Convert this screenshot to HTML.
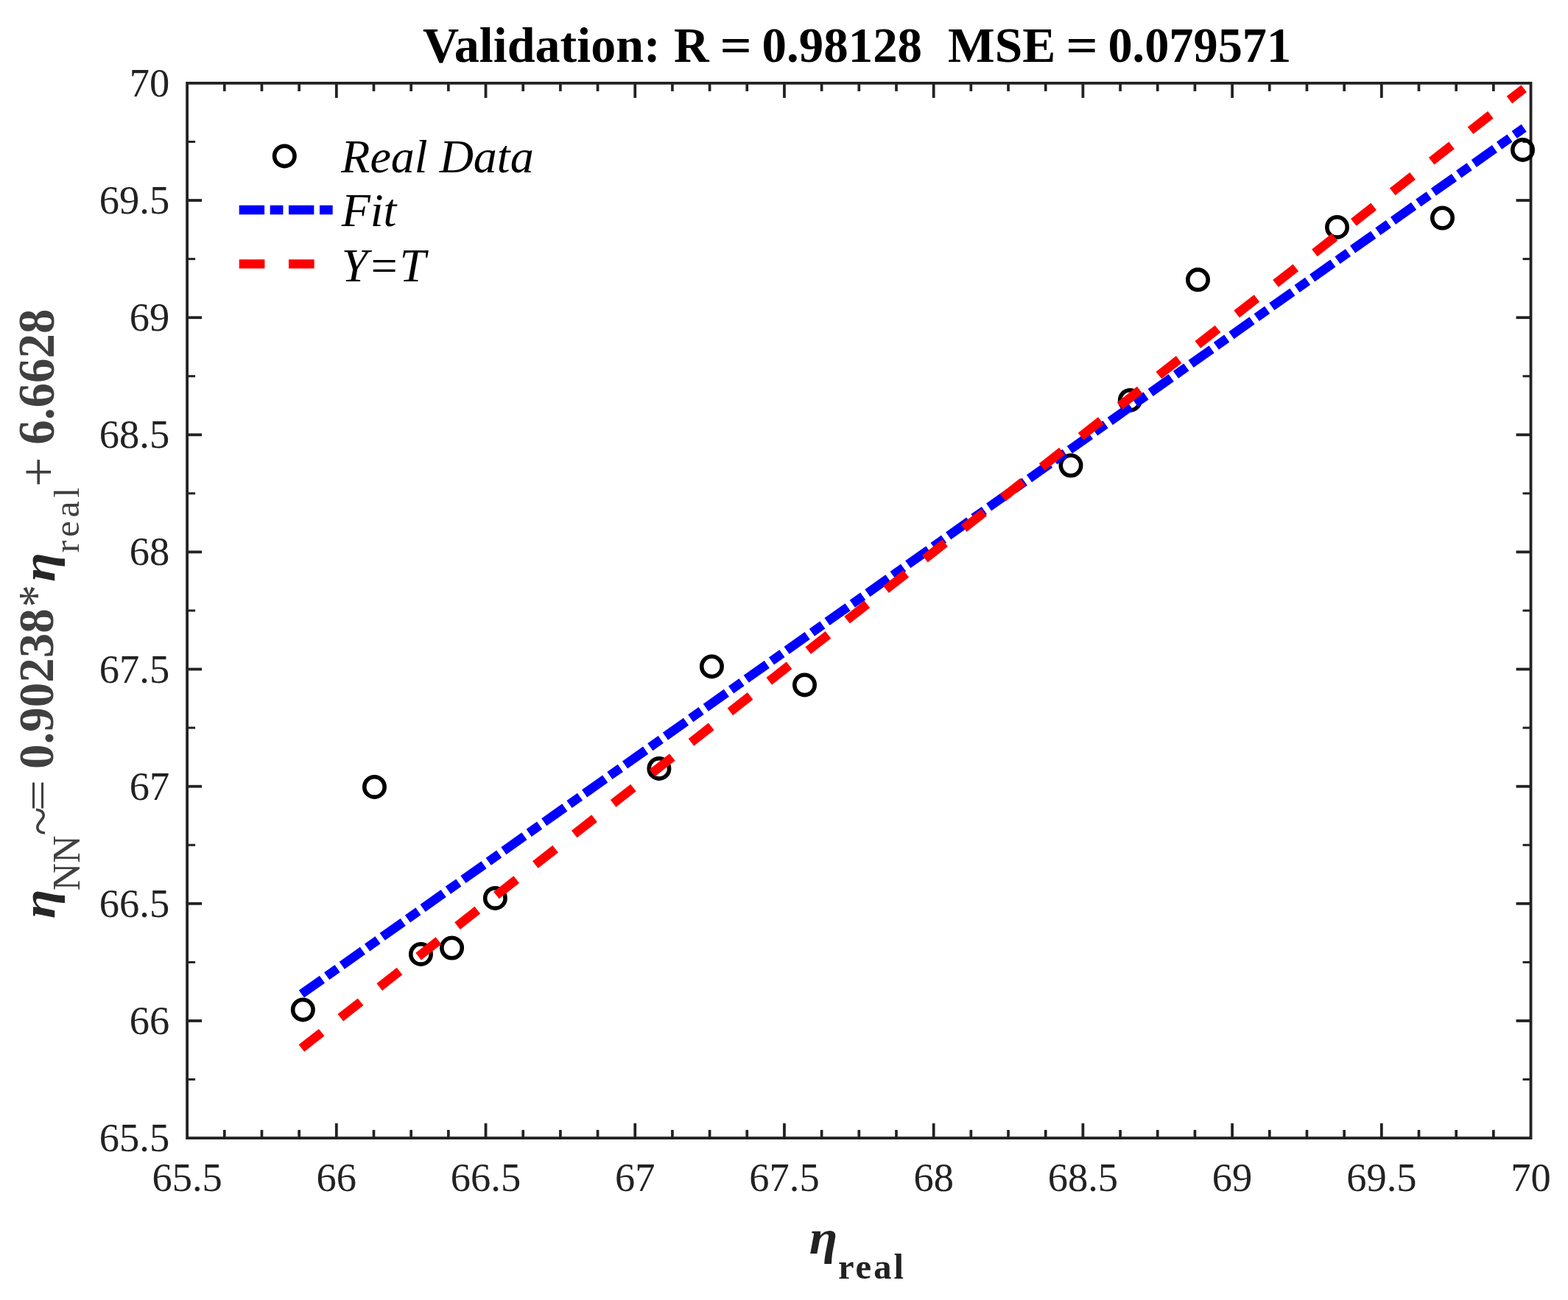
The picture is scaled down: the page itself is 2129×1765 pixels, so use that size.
<!DOCTYPE html>
<html><head><meta charset="utf-8"><title>Validation plot</title>
<style>
html,body{margin:0;padding:0;background:#fff;overflow:hidden;}
svg{display:block;}
text{font-family:"Liberation Serif","Times New Roman",serif;}
</style></head>
<body>
<svg width="2129" height="1765" viewBox="0 0 2129 1765">
<rect x="0" y="0" width="2129" height="1765" fill="#ffffff"/>
<rect x="254.10" y="112.90" width="1824.44" height="1432.20" fill="none" stroke="#222222" stroke-width="3.8"/>
<g stroke="#222222"><line x1="304.78" y1="1545.10" x2="304.78" y2="1534.10" stroke-width="3.7"/><line x1="304.78" y1="112.90" x2="304.78" y2="123.90" stroke-width="3.7"/><line x1="355.46" y1="1545.10" x2="355.46" y2="1534.10" stroke-width="3.7"/><line x1="355.46" y1="112.90" x2="355.46" y2="123.90" stroke-width="3.7"/><line x1="406.14" y1="1545.10" x2="406.14" y2="1534.10" stroke-width="3.7"/><line x1="406.14" y1="112.90" x2="406.14" y2="123.90" stroke-width="3.7"/><line x1="456.82" y1="1545.10" x2="456.82" y2="1525.10" stroke-width="3.8"/><line x1="456.82" y1="112.90" x2="456.82" y2="132.90" stroke-width="3.8"/><line x1="507.49" y1="1545.10" x2="507.49" y2="1534.10" stroke-width="3.7"/><line x1="507.49" y1="112.90" x2="507.49" y2="123.90" stroke-width="3.7"/><line x1="558.17" y1="1545.10" x2="558.17" y2="1534.10" stroke-width="3.7"/><line x1="558.17" y1="112.90" x2="558.17" y2="123.90" stroke-width="3.7"/><line x1="608.85" y1="1545.10" x2="608.85" y2="1534.10" stroke-width="3.7"/><line x1="608.85" y1="112.90" x2="608.85" y2="123.90" stroke-width="3.7"/><line x1="659.53" y1="1545.10" x2="659.53" y2="1525.10" stroke-width="3.8"/><line x1="659.53" y1="112.90" x2="659.53" y2="132.90" stroke-width="3.8"/><line x1="710.21" y1="1545.10" x2="710.21" y2="1534.10" stroke-width="3.7"/><line x1="710.21" y1="112.90" x2="710.21" y2="123.90" stroke-width="3.7"/><line x1="760.89" y1="1545.10" x2="760.89" y2="1534.10" stroke-width="3.7"/><line x1="760.89" y1="112.90" x2="760.89" y2="123.90" stroke-width="3.7"/><line x1="811.57" y1="1545.10" x2="811.57" y2="1534.10" stroke-width="3.7"/><line x1="811.57" y1="112.90" x2="811.57" y2="123.90" stroke-width="3.7"/><line x1="862.25" y1="1545.10" x2="862.25" y2="1525.10" stroke-width="3.8"/><line x1="862.25" y1="112.90" x2="862.25" y2="132.90" stroke-width="3.8"/><line x1="912.93" y1="1545.10" x2="912.93" y2="1534.10" stroke-width="3.7"/><line x1="912.93" y1="112.90" x2="912.93" y2="123.90" stroke-width="3.7"/><line x1="963.60" y1="1545.10" x2="963.60" y2="1534.10" stroke-width="3.7"/><line x1="963.60" y1="112.90" x2="963.60" y2="123.90" stroke-width="3.7"/><line x1="1014.28" y1="1545.10" x2="1014.28" y2="1534.10" stroke-width="3.7"/><line x1="1014.28" y1="112.90" x2="1014.28" y2="123.90" stroke-width="3.7"/><line x1="1064.96" y1="1545.10" x2="1064.96" y2="1525.10" stroke-width="3.8"/><line x1="1064.96" y1="112.90" x2="1064.96" y2="132.90" stroke-width="3.8"/><line x1="1115.64" y1="1545.10" x2="1115.64" y2="1534.10" stroke-width="3.7"/><line x1="1115.64" y1="112.90" x2="1115.64" y2="123.90" stroke-width="3.7"/><line x1="1166.32" y1="1545.10" x2="1166.32" y2="1534.10" stroke-width="3.7"/><line x1="1166.32" y1="112.90" x2="1166.32" y2="123.90" stroke-width="3.7"/><line x1="1217.00" y1="1545.10" x2="1217.00" y2="1534.10" stroke-width="3.7"/><line x1="1217.00" y1="112.90" x2="1217.00" y2="123.90" stroke-width="3.7"/><line x1="1267.68" y1="1545.10" x2="1267.68" y2="1525.10" stroke-width="3.8"/><line x1="1267.68" y1="112.90" x2="1267.68" y2="132.90" stroke-width="3.8"/><line x1="1318.36" y1="1545.10" x2="1318.36" y2="1534.10" stroke-width="3.7"/><line x1="1318.36" y1="112.90" x2="1318.36" y2="123.90" stroke-width="3.7"/><line x1="1369.04" y1="1545.10" x2="1369.04" y2="1534.10" stroke-width="3.7"/><line x1="1369.04" y1="112.90" x2="1369.04" y2="123.90" stroke-width="3.7"/><line x1="1419.71" y1="1545.10" x2="1419.71" y2="1534.10" stroke-width="3.7"/><line x1="1419.71" y1="112.90" x2="1419.71" y2="123.90" stroke-width="3.7"/><line x1="1470.39" y1="1545.10" x2="1470.39" y2="1525.10" stroke-width="3.8"/><line x1="1470.39" y1="112.90" x2="1470.39" y2="132.90" stroke-width="3.8"/><line x1="1521.07" y1="1545.10" x2="1521.07" y2="1534.10" stroke-width="3.7"/><line x1="1521.07" y1="112.90" x2="1521.07" y2="123.90" stroke-width="3.7"/><line x1="1571.75" y1="1545.10" x2="1571.75" y2="1534.10" stroke-width="3.7"/><line x1="1571.75" y1="112.90" x2="1571.75" y2="123.90" stroke-width="3.7"/><line x1="1622.43" y1="1545.10" x2="1622.43" y2="1534.10" stroke-width="3.7"/><line x1="1622.43" y1="112.90" x2="1622.43" y2="123.90" stroke-width="3.7"/><line x1="1673.11" y1="1545.10" x2="1673.11" y2="1525.10" stroke-width="3.8"/><line x1="1673.11" y1="112.90" x2="1673.11" y2="132.90" stroke-width="3.8"/><line x1="1723.79" y1="1545.10" x2="1723.79" y2="1534.10" stroke-width="3.7"/><line x1="1723.79" y1="112.90" x2="1723.79" y2="123.90" stroke-width="3.7"/><line x1="1774.47" y1="1545.10" x2="1774.47" y2="1534.10" stroke-width="3.7"/><line x1="1774.47" y1="112.90" x2="1774.47" y2="123.90" stroke-width="3.7"/><line x1="1825.15" y1="1545.10" x2="1825.15" y2="1534.10" stroke-width="3.7"/><line x1="1825.15" y1="112.90" x2="1825.15" y2="123.90" stroke-width="3.7"/><line x1="1875.82" y1="1545.10" x2="1875.82" y2="1525.10" stroke-width="3.8"/><line x1="1875.82" y1="112.90" x2="1875.82" y2="132.90" stroke-width="3.8"/><line x1="1926.50" y1="1545.10" x2="1926.50" y2="1534.10" stroke-width="3.7"/><line x1="1926.50" y1="112.90" x2="1926.50" y2="123.90" stroke-width="3.7"/><line x1="1977.18" y1="1545.10" x2="1977.18" y2="1534.10" stroke-width="3.7"/><line x1="1977.18" y1="112.90" x2="1977.18" y2="123.90" stroke-width="3.7"/><line x1="2027.86" y1="1545.10" x2="2027.86" y2="1534.10" stroke-width="3.7"/><line x1="2027.86" y1="112.90" x2="2027.86" y2="123.90" stroke-width="3.7"/><line x1="254.10" y1="1465.53" x2="265.10" y2="1465.53" stroke-width="3.0"/><line x1="2078.54" y1="1465.53" x2="2067.54" y2="1465.53" stroke-width="3.0"/><line x1="254.10" y1="1385.97" x2="274.10" y2="1385.97" stroke-width="3.8"/><line x1="2078.54" y1="1385.97" x2="2058.54" y2="1385.97" stroke-width="3.8"/><line x1="254.10" y1="1306.40" x2="265.10" y2="1306.40" stroke-width="3.0"/><line x1="2078.54" y1="1306.40" x2="2067.54" y2="1306.40" stroke-width="3.0"/><line x1="254.10" y1="1226.83" x2="274.10" y2="1226.83" stroke-width="3.8"/><line x1="2078.54" y1="1226.83" x2="2058.54" y2="1226.83" stroke-width="3.8"/><line x1="254.10" y1="1147.27" x2="265.10" y2="1147.27" stroke-width="3.0"/><line x1="2078.54" y1="1147.27" x2="2067.54" y2="1147.27" stroke-width="3.0"/><line x1="254.10" y1="1067.70" x2="274.10" y2="1067.70" stroke-width="3.8"/><line x1="2078.54" y1="1067.70" x2="2058.54" y2="1067.70" stroke-width="3.8"/><line x1="254.10" y1="988.13" x2="265.10" y2="988.13" stroke-width="3.0"/><line x1="2078.54" y1="988.13" x2="2067.54" y2="988.13" stroke-width="3.0"/><line x1="254.10" y1="908.57" x2="274.10" y2="908.57" stroke-width="3.8"/><line x1="2078.54" y1="908.57" x2="2058.54" y2="908.57" stroke-width="3.8"/><line x1="254.10" y1="829.00" x2="265.10" y2="829.00" stroke-width="3.0"/><line x1="2078.54" y1="829.00" x2="2067.54" y2="829.00" stroke-width="3.0"/><line x1="254.10" y1="749.43" x2="274.10" y2="749.43" stroke-width="3.8"/><line x1="2078.54" y1="749.43" x2="2058.54" y2="749.43" stroke-width="3.8"/><line x1="254.10" y1="669.87" x2="265.10" y2="669.87" stroke-width="3.0"/><line x1="2078.54" y1="669.87" x2="2067.54" y2="669.87" stroke-width="3.0"/><line x1="254.10" y1="590.30" x2="274.10" y2="590.30" stroke-width="3.8"/><line x1="2078.54" y1="590.30" x2="2058.54" y2="590.30" stroke-width="3.8"/><line x1="254.10" y1="510.73" x2="265.10" y2="510.73" stroke-width="3.0"/><line x1="2078.54" y1="510.73" x2="2067.54" y2="510.73" stroke-width="3.0"/><line x1="254.10" y1="431.17" x2="274.10" y2="431.17" stroke-width="3.8"/><line x1="2078.54" y1="431.17" x2="2058.54" y2="431.17" stroke-width="3.8"/><line x1="254.10" y1="351.60" x2="265.10" y2="351.60" stroke-width="3.0"/><line x1="2078.54" y1="351.60" x2="2067.54" y2="351.60" stroke-width="3.0"/><line x1="254.10" y1="272.03" x2="274.10" y2="272.03" stroke-width="3.8"/><line x1="2078.54" y1="272.03" x2="2058.54" y2="272.03" stroke-width="3.8"/><line x1="254.10" y1="192.47" x2="265.10" y2="192.47" stroke-width="3.0"/><line x1="2078.54" y1="192.47" x2="2067.54" y2="192.47" stroke-width="3.0"/></g>
<g fill="none" stroke="#000" stroke-width="5.6"><circle cx="411.35" cy="1370.9" r="13.7"/><circle cx="508.45" cy="1068.45" r="13.7"/><circle cx="571.45" cy="1295.45" r="13.7"/><circle cx="613.55" cy="1287.0" r="13.7"/><circle cx="672.35" cy="1219.45" r="13.7"/><circle cx="894.9" cy="1043.4" r="13.7"/><circle cx="966.45" cy="904.9" r="13.7"/><circle cx="1092.5" cy="929.9" r="13.7"/><circle cx="1454.0" cy="632.0" r="13.7"/><circle cx="1534.3" cy="543.4" r="13.7"/><circle cx="1626.5" cy="379.85" r="13.7"/><circle cx="1815.5" cy="308.45" r="13.7"/><circle cx="1958.5" cy="296.0" r="13.7"/><circle cx="2067.5" cy="203.4" r="13.7"/></g>
<line x1="409.40" y1="1349.57" x2="2069.20" y2="173.81" stroke="#0000ff" stroke-width="12.3" stroke-dasharray="34.4 7.6 17.7 7.57"/>
<line x1="409.40" y1="1423.19" x2="2069.20" y2="120.23" stroke="#ff0000" stroke-width="12.3" stroke-dasharray="34.7 32.56"/>
<g fill="#222222" font-size="54.5"><text x="254.10" y="1617.1" text-anchor="middle">65.5</text><text x="230.2" y="1563.10" text-anchor="end">65.5</text><text x="456.82" y="1617.1" text-anchor="middle">66</text><text x="230.2" y="1403.97" text-anchor="end">66</text><text x="659.53" y="1617.1" text-anchor="middle">66.5</text><text x="230.2" y="1244.83" text-anchor="end">66.5</text><text x="862.25" y="1617.1" text-anchor="middle">67</text><text x="230.2" y="1085.70" text-anchor="end">67</text><text x="1064.96" y="1617.1" text-anchor="middle">67.5</text><text x="230.2" y="926.57" text-anchor="end">67.5</text><text x="1267.68" y="1617.1" text-anchor="middle">68</text><text x="230.2" y="767.43" text-anchor="end">68</text><text x="1470.39" y="1617.1" text-anchor="middle">68.5</text><text x="230.2" y="608.30" text-anchor="end">68.5</text><text x="1673.11" y="1617.1" text-anchor="middle">69</text><text x="230.2" y="449.17" text-anchor="end">69</text><text x="1875.82" y="1617.1" text-anchor="middle">69.5</text><text x="230.2" y="290.03" text-anchor="end">69.5</text><text x="2078.54" y="1617.1" text-anchor="middle">70</text><text x="230.2" y="130.90" text-anchor="end">70</text></g>
<circle cx="386.3" cy="211.9" r="13.7" fill="none" stroke="#000" stroke-width="5.6"/>
<line x1="324.7" y1="285" x2="451.9" y2="285" stroke="#0000ff" stroke-width="12.3" stroke-dasharray="34.4 7.6 17.7 7.57"/>
<line x1="324.7" y1="358.4" x2="451.9" y2="358.4" stroke="#ff0000" stroke-width="12.3" stroke-dasharray="34.7 32.56"/>
<text transform="translate(573.90,83.90) scale(1.0102,1.0000)" font-size="67.4" font-weight="bold" fill="#000" xml:space="preserve">Validation:</text>
<text transform="translate(915.00,83.90) scale(0.9796,1.0000)" font-size="67.4" font-weight="bold" fill="#000" xml:space="preserve">R</text>
<text transform="translate(977.55,83.90) scale(1.1281,1.0000)" font-size="67.4" font-weight="bold" fill="#000" xml:space="preserve">=</text>
<text transform="translate(1034.50,83.90) scale(0.9935,1.0000)" font-size="67.4" font-weight="bold" fill="#000" xml:space="preserve">0.98128</text>
<text transform="translate(1287.00,83.90) scale(1.0014,1.0000)" font-size="67.4" font-weight="bold" fill="#000" xml:space="preserve">MSE</text>
<text transform="translate(1447.15,83.90) scale(1.1344,1.0000)" font-size="67.4" font-weight="bold" fill="#000" xml:space="preserve">=</text>
<text transform="translate(1504.45,83.90) scale(0.9842,1.0000)" font-size="67.4" font-weight="bold" fill="#000" xml:space="preserve">0.079571</text>
<text transform="translate(463.35,234.40) scale(1.0000,1.0000)" font-size="64" font-style="italic" fill="#000" xml:space="preserve">Real Data</text>
<text transform="translate(463.70,307.30) scale(1.0000,1.0000)" font-size="64" font-style="italic" fill="#000" xml:space="preserve">Fit</text>
<text transform="translate(463.80,381.65) scale(1.0000,1.0000)" font-size="64" font-style="italic" fill="#000" xml:space="preserve">Y=T</text>
<text transform="translate(1098.80,1702.00) scale(1.0353,0.9574)" font-size="68" font-weight="bold" font-style="italic" fill="#222222" xml:space="preserve">η</text>
<text transform="translate(1137.90,1735.80) scale(0.9932,0.9941)" font-size="49" font-weight="bold" letter-spacing="3" fill="#222222" xml:space="preserve">real</text>
<text transform="translate(73.80,1247.30) rotate(-90) scale(1.0727,0.9277)" font-size="68" font-weight="bold" font-style="italic" fill="#262626" xml:space="preserve">η</text>
<text transform="translate(107.65,1209.25) rotate(-90) scale(1.0097,1.0333)" font-size="51.5" fill="#404040" xml:space="preserve">NN</text>
<text transform="translate(78.95,1134.70) rotate(-90) scale(1.0114,1.0000)" font-size="72" fill="#404040" xml:space="preserve">~</text>
<text transform="translate(72.10,1101.30) rotate(-90) scale(1.0412,0.8444)" font-size="72" fill="#404040" xml:space="preserve">=</text>
<text transform="translate(72.35,1044.00) rotate(-90) scale(1.0000,1.0196)" font-size="67" font-weight="bold" fill="#404040" xml:space="preserve">0.90238</text>
<text transform="translate(70.90,824.35) rotate(-90) scale(1.0042,1.1364)" font-size="60" fill="#404040" xml:space="preserve">*</text>
<text transform="translate(74.10,790.00) rotate(-90) scale(1.0727,0.9362)" font-size="68" font-weight="bold" font-style="italic" fill="#262626" xml:space="preserve">η</text>
<text transform="translate(107.45,750.40) rotate(-90) scale(1.0361,1.0265)" font-size="48" letter-spacing="4.5" fill="#404040" xml:space="preserve">real</text>
<text transform="translate(76.00,660.90) rotate(-90) scale(1.0182,1.0182)" font-size="70" fill="#404040" xml:space="preserve">+</text>
<text transform="translate(73.35,603.85) rotate(-90) scale(1.0153,1.0659)" font-size="66" font-weight="bold" fill="#404040" xml:space="preserve">6.6628</text>
</svg>
</body></html>
